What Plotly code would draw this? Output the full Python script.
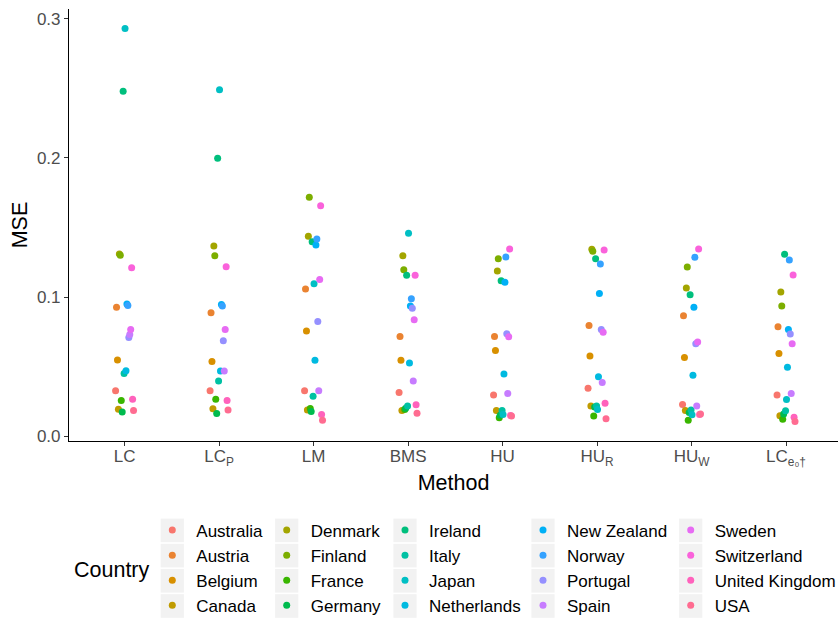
import plotly.graph_objects as go

methods = ["LC", "LC_P", "LM", "BMS", "HU", "HU_R", "HU_W", "LC_e0"]
method_labels = ["LC", "LC<sub>P</sub>", "LM", "BMS", "HU", "HU<sub>R</sub>",
                 "HU<sub>W</sub>", "LC<sub>e₀†</sub>"]

countries = ["Australia", "Austria", "Belgium", "Canada", "Denmark", "Finland",
             "France", "Germany", "Ireland", "Italy", "Japan", "Netherlands",
             "New Zealand", "Norway", "Portugal", "Spain", "Sweden",
             "Switzerland", "United Kingdom", "USA"]

colors = ["#F8766D", "#EA8331", "#D89000", "#C09B00", "#A3A500", "#7CAE00",
          "#39B600", "#00BB4E", "#00BF7D", "#00C1A3", "#00BFC4", "#00BAE0",
          "#00B0F6", "#35A2FF", "#9590FF", "#C77CFF", "#E76BF3", "#FA62DB",
          "#FF62BC", "#FF6C91"]

# MSE per country, in method order
australia   = [0.0326, 0.0326, 0.0326, 0.0314, 0.0295, 0.0345, 0.0228, 0.0295]
austria     = [0.0926, 0.0887, 0.1058, 0.0717, 0.0717, 0.0796, 0.0866, 0.0786]
belgium     = [0.0547, 0.0537, 0.0755, 0.0545, 0.0616, 0.0576, 0.0566, 0.0595]
canada      = [0.0194, 0.0197, 0.0187, 0.0185, 0.0185, 0.0216, 0.0185, 0.0146]
denmark     = [0.1310, 0.1367, 0.1437, 0.1297, 0.1187, 0.1343, 0.1065, 0.1036]
finland     = [0.1300, 0.1297, 0.1717, 0.1197, 0.1276, 0.1330, 0.1216, 0.0935]
france      = [0.0257, 0.0266, 0.0199, 0.0192, 0.0132, 0.0144, 0.0115, 0.0122]
germany     = [0.0173, 0.0163, 0.0177, 0.0200, 0.0150, 0.0210, 0.0170, 0.0160]
ireland     = [0.2480, 0.1998, 0.1398, 0.1156, 0.1117, 0.1276, 0.1017, 0.1307]
italy       = [0.0450, 0.0396, 0.0286, 0.0216, 0.0185, 0.0216, 0.0187, 0.0182]
japan       = [0.2930, 0.2490, 0.1096, 0.1458, 0.0155, 0.0192, 0.0153, 0.0264]
netherlands = [0.0470, 0.0468, 0.0545, 0.0525, 0.0446, 0.0427, 0.0437, 0.0496]
new_zealand = [0.0950, 0.0947, 0.1374, 0.0935, 0.1106, 0.1026, 0.0926, 0.0767]
norway      = [0.0940, 0.0935, 0.1417, 0.0988, 0.1288, 0.1237, 0.1286, 0.1266]
portugal    = [0.0710, 0.0686, 0.0825, 0.0920, 0.0736, 0.0767, 0.0664, 0.0734]
spain       = [0.0730, 0.0468, 0.0326, 0.0396, 0.0307, 0.0386, 0.0216, 0.0307]
sweden      = [0.0767, 0.0767, 0.1127, 0.0837, 0.0715, 0.0746, 0.0676, 0.0664]
switzerland = [0.1210, 0.1218, 0.1657, 0.1156, 0.1345, 0.1338, 0.1345, 0.1158]
uk          = [0.0266, 0.0257, 0.0156, 0.0225, 0.0149, 0.0237, 0.0156, 0.0135]
usa         = [0.0185, 0.0187, 0.0115, 0.0165, 0.0145, 0.0125, 0.0160, 0.0106]

series = [australia, austria, belgium, canada, denmark, finland, france,
          germany, ireland, italy, japan, netherlands, new_zealand, norway,
          portugal, spain, sweden, switzerland, uk, usa]

y_ticks = [0.0, 0.1, 0.2, 0.3]
y_ticktext = ["0.0", "0.1", "0.2", "0.3"]

FONT = "Liberation Sans, Arial, sans-serif"
W, H = 838, 621
PL, PT, PW, PH = 69, 9, 769, 432   # plot area in pixels


def px_x(p):
    return (p - PL) / PW


def px_y(p):
    return (PT + PH - p) / PH


fig = go.Figure()
legend_names = ["legend", "legend2", "legend3", "legend4", "legend5"]
for i, (name, vals, col) in enumerate(zip(countries, series, colors)):
    fig.add_trace(go.Scatter(
        x=methods, y=vals, mode="markers", name=name,
        marker=dict(color=col, size=7, line=dict(width=0)),
        legend=legend_names[i // 4],
        hovertemplate=name + "<br>%{x}: %{y:.4f}<extra></extra>",
    ))

# legend columns (column-major, 4 rows); symbol centre = left + 24
sym_x_px = [172.3, 286.7, 405, 543, 690.7]
legend_top_px = 512.5
for k, ln in enumerate(legend_names):
    fig.update_layout(**{ln: dict(
        x=px_x(sym_x_px[k] - 24), y=px_y(legend_top_px),
        xanchor="left", yanchor="top", orientation="v",
        bgcolor="rgba(0,0,0,0)", borderwidth=0, itemwidth=38,
        font=dict(family=FONT, size=17, color="#000000"),
        tracegroupgap=0, itemsizing="trace",
    )})

# grey legend key backgrounds
shapes = []
for k in range(5):
    for r in range(4):
        y0 = 518.6 + 25.2 * r
        shapes.append(dict(
            type="rect", xref="paper", yref="paper",
            x0=px_x(sym_x_px[k] - 11.6), x1=px_x(sym_x_px[k] + 11.6),
            y0=px_y(y0 + 23.6), y1=px_y(y0),
            fillcolor="#F2F2F2", line=dict(width=0), layer="below",
        ))

fig.update_layout(
    width=W, height=H, autosize=False,
    margin=dict(l=PL, r=W - PL - PW, t=PT, b=H - PT - PH, autoexpand=False),
    paper_bgcolor="white", plot_bgcolor="white",
    scattermode="group", scattergap=0.8,
    font=dict(family=FONT, color="#000000"),
    shapes=shapes,
    showlegend=True,
    annotations=[dict(
        text="Country", xref="paper", yref="paper",
        x=px_x(112), y=px_y(569.5),
        xanchor="center", yanchor="middle", showarrow=False,
        font=dict(family=FONT, size=21.5, color="#000000"),
    )],
    xaxis=dict(
        type="category", categoryorder="array", categoryarray=methods,
        tickvals=methods, ticktext=method_labels,
        range=[-0.588, 7.55],
        showline=True, linecolor="#000000", linewidth=1.1,
        ticks="outside", ticklen=4, tickcolor="#333333", tickwidth=1.1,
        ticklabelstandoff=-4,
        tickfont=dict(family=FONT, size=17, color="#4D4D4D"),
        showgrid=False, zeroline=False,
        title=dict(text="Method", standoff=6,
                   font=dict(family=FONT, size=21.5, color="#000000")),
    ),
    yaxis=dict(
        range=[-0.0035, 0.3071],
        tickvals=y_ticks, ticktext=y_ticktext,
        showline=True, linecolor="#000000", linewidth=1.1,
        ticks="outside", ticklen=4, tickcolor="#333333", tickwidth=1.1,
        tickfont=dict(family=FONT, size=17, color="#4D4D4D"),
        showgrid=False, zeroline=False,
        title=dict(text="MSE", standoff=3,
                   font=dict(family=FONT, size=21.5, color="#000000")),
    ),
)

fig.write_html("out.html",
               config={"displayModeBar": False},
               post_script="document.body.style.margin='0';"
                           "document.body.style.overflow='hidden';")
